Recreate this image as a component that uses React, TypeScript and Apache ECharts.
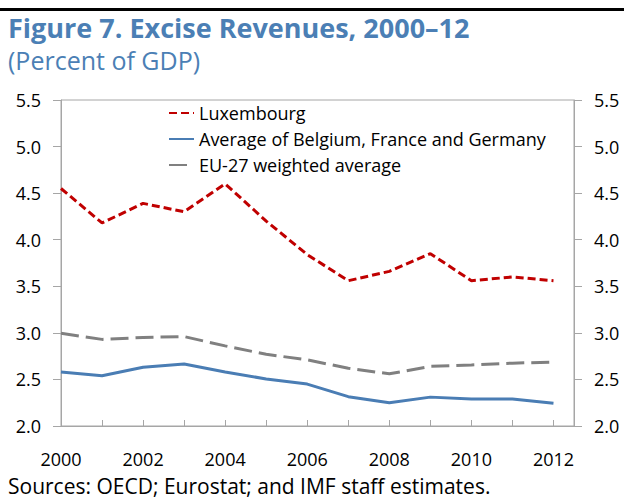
import React, { useEffect, useRef } from "react";
import * as echarts from "echarts";

const years = [2000, 2001, 2002, 2003, 2004, 2005, 2006, 2007, 2008, 2009, 2010, 2011, 2012];
const luxembourg = [4.55, 4.18, 4.39, 4.3, 4.6, 4.2, 3.84, 3.56, 3.66, 3.85, 3.56, 3.6, 3.56];
const avgBFG = [2.58, 2.54, 2.63, 2.665, 2.58, 2.505, 2.45, 2.315, 2.25, 2.31, 2.29, 2.29, 2.245];
const eu27 = [2.995, 2.93, 2.95, 2.96, 2.86, 2.77, 2.71, 2.62, 2.56, 2.64, 2.655, 2.675, 2.685];
const seriesNames = [
  "Luxembourg",
  "Average of Belgium, France and Germany",
  "EU-27 weighted average",
];
const titleText = "Figure 7. Excise Revenues, 2000\u201312";
const subtitleText = "(Percent of GDP)";
const sourceText = "Sources: OECD; Eurostat; and IMF staff estimates.";

const FONT = "'Open Sans', 'Noto Sans', sans-serif";
const AXIS_COLOR = "#a6a6a6";

const pairs = (vals: number[]) => years.map((y, i) => [y, vals[i]]);

export default function App() {
  const ref = useRef<HTMLDivElement>(null);
  useEffect(() => {
    if (!ref.current) return;
    const chart = echarts.init(ref.current, undefined, { renderer: "svg" });
    const yAxisBase = {
      type: "value",
      min: 2,
      max: 5.5,
      interval: 0.5,
      splitLine: { show: false },
      axisLine: { show: true, lineStyle: { color: AXIS_COLOR, width: 1 } },
      axisTick: { show: true, inside: false, length: 8, lineStyle: { color: AXIS_COLOR } },
      axisLabel: {
        color: "#000",
        fontSize: 18,
        fontFamily: FONT,
        formatter: (v: number) => v.toFixed(1),
      },
    };
    chart.setOption({
      animation: false,
      backgroundColor: "#fff",
      textStyle: { fontFamily: FONT },
      grid: {
        left: 61,
        right: 50,
        top: 100,
        bottom: 78,
        show: true,
        borderColor: AXIS_COLOR,
        borderWidth: 1,
        backgroundColor: "transparent",
      },
      legend: {
        orient: "vertical",
        left: 168,
        top: 103,
        padding: 0,
        itemWidth: 25,
        itemHeight: 14,
        itemGap: 6,
        itemStyle: { opacity: 0 },
        textStyle: { fontSize: 18, color: "#000", fontFamily: FONT, lineHeight: 20 },
        data: seriesNames,
      },
      xAxis: {
        type: "value",
        min: 2000,
        max: 2012.5,
        interval: 1,
        splitLine: { show: false },
        axisLine: { show: true, lineStyle: { color: AXIS_COLOR, width: 1 } },
        axisTick: { show: true, inside: true, length: 6, lineStyle: { color: AXIS_COLOR } },
        axisLabel: {
          color: "#000",
          fontSize: 18,
          fontFamily: FONT,
          margin: 24,
          showMaxLabel: false,
          formatter: (v: number) =>
            Number.isInteger(v) && v % 2 === 0 ? String(v) : "",
        },
      },
      yAxis: [
        { ...yAxisBase, position: "left", axisLabel: { ...yAxisBase.axisLabel, margin: 20 } },
        { ...yAxisBase, position: "right", axisLabel: { ...yAxisBase.axisLabel, margin: 20 } },
      ],
      series: [
        {
          name: seriesNames[0],
          type: "line",
          data: pairs(luxembourg),
          symbol: "none",
          lineStyle: { color: "#c00000", width: 3, type: [8, 4] },
          itemStyle: { color: "#c00000" },
        },
        {
          name: seriesNames[1],
          type: "line",
          data: pairs(avgBFG),
          symbol: "none",
          lineStyle: { color: "#4a7db4", width: 3, type: "solid" },
          itemStyle: { color: "#4a7db4" },
        },
        {
          name: seriesNames[2],
          type: "line",
          data: pairs(eu27),
          symbol: "none",
          lineStyle: { color: "#808080", width: 3, type: [18, 7] },
          itemStyle: { color: "#808080" },
        },
      ],
      graphic: [
        {
          type: "rect",
          shape: { x: 0, y: 8, width: 624, height: 3 },
          style: { fill: "#000" },
        },
        {
          type: "text",
          left: 8,
          top: 12,
          style: {
            text: titleText,
            fontSize: 27,
            fontWeight: "bold",
            fontFamily: FONT,
            lineHeight: 30,
            fill: "#4b7fb5",
          },
        },
        {
          type: "text",
          left: 8,
          top: 46,
          style: {
            text: subtitleText,
            fontSize: 25,
            fontFamily: FONT,
            lineHeight: 28,
            fill: "#4b7fb5",
          },
        },
        {
          type: "text",
          left: 8,
          top: 473,
          style: {
            text: sourceText,
            fontSize: 21,
            fontFamily: FONT,
            lineHeight: 26,
            fill: "#000",
          },
        },
      ],
    });
    return () => chart.dispose();
  }, []);
  return <div ref={ref} style={{ width: 624, height: 504, position: "absolute", left: 0, top: 0 }} />;
}
